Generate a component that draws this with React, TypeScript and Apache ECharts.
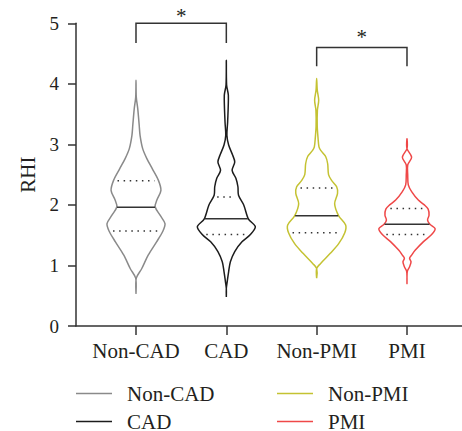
import React, { useEffect, useRef } from "react";
import * as echarts from "echarts";

const categories = ["Non-CAD", "CAD", "Non-PMI", "PMI"];
const colors = ["#8a8a8a", "#1c1c1c", "#c4c232", "#ef4848"];

// [RHI value, relative density]
const nonCadDensity = [
  [0.54, 0], [0.79, 0.01], [0.95, 0.2], [1.17, 0.42], [1.39, 0.71], [1.57, 0.93],
  [1.69, 1.0], [1.83, 0.83], [1.97, 0.66], [2.08, 0.72], [2.24, 0.86], [2.41, 0.77],
  [2.6, 0.56], [2.77, 0.37], [2.93, 0.23], [3.15, 0.14], [3.32, 0.11], [3.59, 0.06],
  [3.78, 0.01], [4.06, 0],
];
const cadDensity = [
  [0.48, 0], [0.62, 0], [0.73, 0.03], [0.9, 0.08], [1.06, 0.14], [1.23, 0.29],
  [1.39, 0.54], [1.51, 0.83], [1.64, 1.0], [1.77, 0.76], [2.0, 0.6], [2.16, 0.42],
  [2.3, 0.4], [2.44, 0.33], [2.57, 0.2], [2.71, 0.29], [2.82, 0.22], [2.99, 0.08],
  [3.15, 0.02], [3.37, 0.045], [3.81, 0.07], [3.98, 0.01], [4.39, 0],
];
const nonPmiDensity = [
  [0.79, 0], [0.95, 0], [1.03, 0.13], [1.2, 0.47], [1.36, 0.76], [1.54, 0.97],
  [1.67, 1.0], [1.82, 0.76], [2.02, 0.62], [2.19, 0.72], [2.3, 0.69], [2.4, 0.52],
  [2.5, 0.41], [2.68, 0.38], [2.8, 0.31], [2.9, 0.14], [2.96, 0.08], [3.12, 0.045],
  [3.3, 0.02], [3.56, 0.025], [3.73, 0.07], [3.9, 0.02], [4.09, 0],
];
const pmiDensity = [
  [0.7, 0], [0.9, 0.01], [0.98, 0.09], [1.06, 0.14], [1.12, 0.09], [1.17, 0.16],
  [1.25, 0.28], [1.39, 0.56], [1.51, 0.85], [1.61, 0.97], [1.68, 0.79], [1.75, 0.71],
  [1.83, 0.76], [1.93, 0.73], [2.0, 0.6], [2.08, 0.39], [2.22, 0.16], [2.33, 0.045],
  [2.5, 0.025], [2.66, 0.025], [2.79, 0.16], [2.93, 0], [3.1, 0],
];
const densities = [nonCadDensity, cadDensity, nonPmiDensity, pmiDensity];

const medians = [1.96, 1.77, 1.82, 1.68];
const lowerQuartiles = [1.57, 1.51, 1.54, 1.51];
const upperQuartiles = [2.4, 2.13, 2.28, 1.94];

const yTicks = [0, 1, 2, 3, 4, 5];
const categoryPositions = [1, 2, 3, 4];

// significance brackets
const bracketFrom = [1, 3];
const bracketTo = [2, 4];
const bracketTop = [5.0, 4.6];
const bracketLeg = [4.675, 4.29];
const bracketLabelY = [5.157, 4.807];
const bracketLabels = ["*", "*"];

const FONT = "Liberation Serif";
const TEXT = "#231f20";
const AXIS = "#333333";
const MAX_HALF = 0.321; // max half width as fraction of category spacing

function widthAt(profile: number[][], v: number) {
  for (let i = 0; i < profile.length - 1; i++) {
    const [a, da] = profile[i];
    const [b, db] = profile[i + 1];
    if (v >= a && v <= b) return da + ((db - da) * (v - a)) / (b - a);
  }
  return 0;
}

function makeViolin(idx: number) {
  const profile = densities[idx];
  return (params: any, api: any) => {
    const x = api.value(0);
    const unit = api.size([1, 0])[0];
    const hw = MAX_HALF * unit;
    const right = profile.map(([v, d]) => {
      const c = api.coord([x, v]);
      return [c[0] + d * hw, c[1]];
    });
    const left = profile
      .slice(1, profile.length - 1)
      .reverse()
      .map(([v, d]) => {
        const c = api.coord([x, v]);
        return [c[0] - d * hw, c[1]];
      });
    const hLine = (v: number, shrink: number, dashed: boolean) => {
      const c = api.coord([x, v]);
      const w = widthAt(profile, v) * hw - shrink;
      return {
        type: "line",
        shape: { x1: c[0] - w, y1: c[1], x2: c[0] + w, y2: c[1] },
        style: {
          stroke: AXIS,
          lineWidth: 1.5,
          lineDash: dashed ? [1.5, 4.6] : null,
          fill: null,
        },
        z2: 5,
      };
    };
    return {
      type: "group",
      children: [
        {
          type: "polygon",
          shape: { points: right.concat(left), smooth: 0.3 },
          style: { fill: "none", stroke: colors[idx], lineWidth: 1.5 },
        },
        hLine(medians[idx], 0.5, false),
        hLine(lowerQuartiles[idx], 4, true),
        hLine(upperQuartiles[idx], 4, true),
      ],
    };
  };
}

const legendLeft = [76, 76, 277, 277];
const legendTop = [383, 411, 383, 411];

export default function App() {
  const ref = useRef<HTMLDivElement>(null);
  useEffect(() => {
    if (!ref.current) return;
    const chart = echarts.init(ref.current, undefined, { renderer: "svg" });
    const violinSeries = categories.map((name, i) => ({
      name,
      type: "custom",
      data: [[categoryPositions[i]]],
      itemStyle: { color: colors[i] },
      renderItem: makeViolin(i),
      silent: true,
      clip: false,
    }));
    const bracketData = bracketFrom.map((f, i) => [f, bracketTo[i], bracketTop[i], bracketLeg[i], bracketLabelY[i], i]);
    const option: any = {
      animation: false,
      textStyle: { fontFamily: FONT },
      grid: { left: 76, right: 0, top: 23.3, bottom: 105, containLabel: false },
      xAxis: {
        type: "value",
        min: 0.3358,
        max: 4.609,
        splitLine: { show: false },
        axisLine: { show: true, lineStyle: { color: AXIS, width: 1.5 } },
        axisTick: {
          show: true,
          length: 9,
          customValues: categoryPositions,
          lineStyle: { color: AXIS, width: 1.5 },
        },
        axisLabel: {
          customValues: categoryPositions,
          formatter: (v: number) => categories[Math.round(v) - 1] ?? "",
          fontFamily: FONT,
          fontSize: 21,
          color: TEXT,
          margin: 14,
        },
      },
      yAxis: {
        type: "value",
        min: 0,
        max: 5,
        interval: 1,
        name: "RHI",
        nameLocation: "middle",
        nameGap: 38,
        nameTextStyle: { fontFamily: FONT, fontSize: 21, color: TEXT },
        splitLine: { show: false },
        axisLine: { show: true, lineStyle: { color: AXIS, width: 1.5 } },
        axisTick: { show: true, length: 8, lineStyle: { color: AXIS, width: 1.5 } },
        axisLabel: {
          fontFamily: FONT,
          fontSize: 19,
          color: TEXT,
          margin: 17,
          formatter: (v: number) => (yTicks.includes(v) ? String(v) : ""),
        },
      },
      legend: categories.map((n, i) => ({
        data: [{ name: n, icon: "rect" }],
        left: legendLeft[i],
        top: legendTop[i],
        padding: 0,
        itemWidth: 36,
        itemHeight: 1.5,
        textStyle: { fontFamily: FONT, fontSize: 21, color: TEXT, lineHeight: 16, padding: [0, 0, 0, 10] },
        selectedMode: false,
      })),
      series: [
        ...violinSeries,
        {
          type: "custom",
          name: "brackets",
          data: bracketData,
          clip: false,
          silent: true,
          renderItem: (params: any, api: any) => {
            const f = api.value(0);
            const t = api.value(1);
            const top = api.value(2);
            const leg = api.value(3);
            const ly = api.value(4);
            const idx = api.value(5);
            const p1 = api.coord([f, leg]);
            const p2 = api.coord([f, top]);
            const p3 = api.coord([t, top]);
            const p4 = api.coord([t, leg]);
            const lab = api.coord([(f + t) / 2, ly]);
            return {
              type: "group",
              children: [
                {
                  type: "polyline",
                  shape: { points: [p1, p2, p3, p4] },
                  style: { stroke: AXIS, lineWidth: 1.5, fill: null },
                },
                {
                  type: "text",
                  x: lab[0],
                  y: lab[1] + 2,
                  style: {
                    text: bracketLabels[idx],
                    fontFamily: FONT,
                    fontSize: 21,
                    fill: TEXT,
                    align: "center",
                    verticalAlign: "middle",
                  },
                },
              ],
            };
          },
        },
      ],
    };
    chart.setOption(option);
    return () => chart.dispose();
  }, []);
  return (
    <div
      ref={ref}
      style={{ position: "fixed", left: 0, top: 0, width: 462, height: 431, background: "#fff" }}
    />
  );
}
